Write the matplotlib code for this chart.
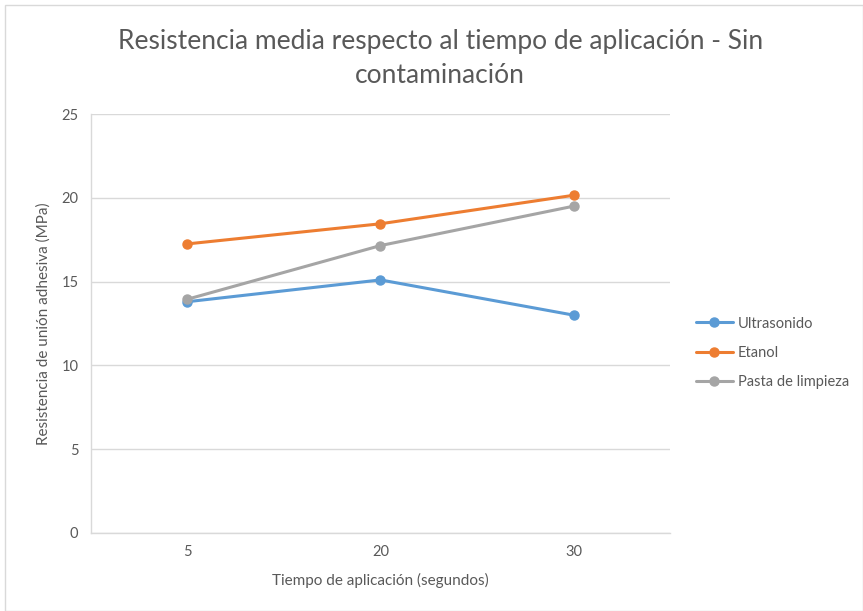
import matplotlib
matplotlib.use("Agg")
import matplotlib.pyplot as plt
from matplotlib.patches import Rectangle

plt.rcParams['font.family'] = ['Lato', 'DejaVu Sans']

tiempos = ["5", "20", "30"]
ultrasonido = [13.8, 15.1, 13.0]
etanol = [17.25, 18.45, 20.15]
pasta = [13.95, 17.15, 19.5]

series = [
    ("Ultrasonido", ultrasonido, "#5B9BD5"),
    ("Etanol", etanol, "#ED7D31"),
    ("Pasta de limpieza", pasta, "#A5A5A5"),
]

text_color = "#595959"
grid_color = "#D9D9D9"

fig = plt.figure(figsize=(8.63, 6.11), dpi=100)
fig.patches.append(Rectangle((0.006, 0.0), 0.994, 0.991, transform=fig.transFigure,
                             fill=False, edgecolor="#D9D9D9", linewidth=1.0))

ax = fig.add_axes([0.1054, 0.1277, 0.6710, 0.6857])
x = list(range(len(tiempos)))
for name, vals, color in series:
    ax.plot(x, vals, color=color, linewidth=2.2, marker="o", markersize=6.5, label=name,
            solid_capstyle="round")

ax.set_xlim(-0.5, len(tiempos) - 0.5)
ax.set_ylim(0, 25)
ax.set_yticks([0, 5, 10, 15, 20, 25])
ax.set_xticks(x)
ax.set_xticklabels(tiempos)
ax.grid(axis="y", color=grid_color, linewidth=1.0)
ax.set_axisbelow(True)
for s in ["top", "right"]:
    ax.spines[s].set_visible(False)
for s in ["left", "bottom"]:
    ax.spines[s].set_color(grid_color)
    ax.spines[s].set_linewidth(1.0)
ax.tick_params(length=0, colors=text_color, labelsize=10.5, pad=9)

ax.set_xlabel("Tiempo de aplicación (segundos)", color=text_color, fontsize=11, labelpad=10)
ax.set_ylabel("Resistencia de unión adhesiva (MPa)", color=text_color, fontsize=11, labelpad=8)

fig.suptitle("Resistencia media respecto al tiempo de aplicación - Sin\ncontaminación",
             x=0.51, y=0.952, color=text_color, fontsize=19, linespacing=1.45)

leg = ax.legend(loc="center left", bbox_to_anchor=(1.035, 0.43), frameon=False,
                fontsize=10.5, handlelength=2.5, labelspacing=1.05, handletextpad=0.35,
                borderaxespad=0)
for t in leg.get_texts():
    t.set_color(text_color)

fig.savefig("out.png", dpi=100)
